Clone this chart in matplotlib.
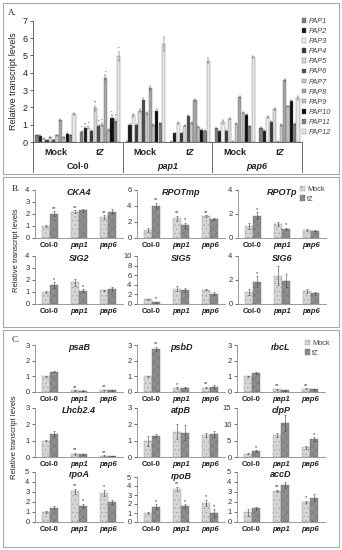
import matplotlib.pyplot as plt
from matplotlib.patches import Rectangle
import numpy as np

plt.rcParams['font.family'] = ['Liberation Sans', 'DejaVu Sans']
plt.rcParams['hatch.linewidth'] = 0.3

W, H = 342, 550

# ---------------- panel A data ----------------
pap_names = ['PAP1', 'PAP2', 'PAP3', 'PAP4', 'PAP5', 'PAP6',
             'PAP7', 'PAP8', 'PAP9', 'PAP10', 'PAP11', 'PAP12']
a_groups = ['Col-0', 'pap1', 'pap6']
a_treat = ['Mock', 'tZ']

a_col0_mock = [0.38, 0.36, 0.20, 0.10, 0.28, 0.12, 0.38, 1.27, 0.27, 0.48, 0.38, 1.62]
a_col0_tz = [0.60, 0.78, 0.82, 0.62, 1.95, 0.90, 1.00, 3.72, 0.68, 1.38, 1.22, 4.95]
a_pap1_mock = [0.02, 1.00, 1.55, 0.96, 1.80, 2.40, 1.65, 3.10, 1.00, 1.80, 1.07, 5.65]
a_pap1_tz = [0.02, 0.50, 1.08, 0.50, 0.95, 1.50, 1.10, 2.40, 0.85, 0.70, 0.65, 4.70]
a_pap6_mock = [0.80, 0.62, 1.15, 0.65, 1.35, 0.02, 1.05, 2.60, 1.70, 1.58, 0.90, 4.90]
a_pap6_tz = [0.80, 0.65, 1.45, 1.15, 1.90, 0.02, 1.00, 3.60, 2.05, 2.35, 1.05, 2.55]

a_col0_mock_err = [0.03, 0.03, 0.02, 0.02, 0.03, 0.02, 0.04, 0.05, 0.03, 0.04, 0.03, 0.08]
a_col0_tz_err = [0.05, 0.08, 0.08, 0.05, 0.15, 0.08, 0.08, 0.12, 0.05, 0.15, 0.12, 0.25]
a_pap1_mock_err = [0.01, 0.05, 0.08, 0.05, 0.08, 0.12, 0.08, 0.12, 0.05, 0.08, 0.05, 0.40]
a_pap1_tz_err = [0.01, 0.03, 0.05, 0.03, 0.05, 0.08, 0.05, 0.08, 0.05, 0.05, 0.03, 0.15]
a_pap6_mock_err = [0.03, 0.03, 0.12, 0.03, 0.05, 0.01, 0.04, 0.05, 0.05, 0.05, 0.05, 0.05]
a_pap6_tz_err = [0.04, 0.03, 0.06, 0.05, 0.06, 0.01, 0.05, 0.06, 0.05, 0.05, 0.05, 0.12]
a_col0_tz_sig = ['*', '**', '*', '', '**', '*', '*', '*', '', '*', '*', '*']

pap_colors = ['#7f7f7f', '#1a1a1a', '#f0f0f0', '#3a3a3a', '#d9d9d9', '#4d4d4d',
              '#c8c8c8', '#a6a6a6', '#bfbfbf', '#0d0d0d', '#808080', '#e8e8e8']

# ---------------- panel B data ----------------
b_genes = ['CKA4', 'RPOTmp', 'RPOTp', 'SIG2', 'SIG5', 'SIG6']
b_mock = [[1.0, 2.2, 1.75], [1.0, 2.45, 2.75], [1.0, 1.15, 0.7],
          [1.0, 1.8, 1.15], [1.0, 3.2, 3.0], [1.0, 2.35, 1.1]]
b_tz = [[2.02, 2.3, 2.2], [4.0, 1.6, 2.35], [1.85, 0.75, 0.62],
        [1.55, 1.12, 1.25], [0.4, 3.0, 2.1], [1.85, 1.95, 0.88]]
b_mock_err = [[0.05, 0.1, 0.15], [0.2, 0.3, 0.1], [0.25, 0.15, 0.08],
              [0.1, 0.3, 0.05], [0.1, 0.5, 0.1], [0.25, 0.8, 0.15]]
b_tz_err = [[0.2, 0.1, 0.2], [0.4, 0.3, 0.15], [0.3, 0.1, 0.05],
            [0.25, 0.1, 0.15], [0.1, 0.4, 0.3], [0.45, 0.55, 0.15]]
b_mock_sig = [['', '**', '**'], ['', '**', '**'], ['', '', ''],
              ['', '', ''], ['', '', ''], ['', '', '']]
b_tz_sig = [['**', '', ''], ['**', '*', ''], ['*', '*', ''],
            ['*', '*', ''], ['*', '', ''], ['*', '', '']]
b_ymax = [4, 6, 4, 4, 10, 4]
b_ystep = [1, 2, 2, 1, 2, 2]

# ---------------- panel C data ----------------
c_genes = ['psaB', 'psbD', 'rbcL', 'Lhcb2.4', 'atpB', 'clpP', 'rpoA', 'rpoB', 'accD']
c_mock = [[1.0, 0.1, 0.12], [1.0, 0.25, 0.28], [1.0, 0.18, 0.2],
          [1.0, 0.2, 0.08], [1.0, 1.55, 1.35], [1.0, 6.8, 3.0],
          [1.0, 3.1, 2.9], [1.0, 3.7, 2.15], [1.0, 3.15, 2.0]]
c_tz = [[1.3, 0.08, 0.12], [2.75, 0.28, 0.35], [1.22, 0.1, 0.17],
        [1.42, 0.18, 0.06], [1.3, 1.5, 1.42], [1.7, 10.5, 5.5],
        [1.45, 1.65, 2.05], [1.7, 1.75, 1.0], [1.38, 3.7, 2.45]]
c_mock_err = [[0.05, 0.02, 0.02], [0.03, 0.05, 0.04], [0.05, 0.03, 0.03],
              [0.02, 0.05, 0.02], [0.3, 0.45, 0.15], [0.2, 0.6, 0.4],
              [0.08, 0.25, 0.3], [0.15, 0.2, 0.35], [0.35, 0.1, 0.1]]
c_tz_err = [[0.05, 0.02, 0.03], [0.15, 0.05, 0.1], [0.08, 0.03, 0.03],
            [0.15, 0.03, 0.02], [0.08, 0.45, 0.2], [0.3, 2.5, 0.5],
            [0.15, 0.15, 0.2], [0.3, 0.2, 0.4], [0.15, 0.3, 0.35]]
c_mock_sig = [['', '**', '**'], ['', '*', '**'], ['', '**', '**'],
              ['', '**', '**'], ['', '', ''], ['', '', ''],
              ['', '**', '*'], ['', '**', '*'], ['', '**', '*']]
c_tz_sig = [['', '', ''], ['**', '', ''], ['', '', ''],
            ['', '', ''], ['', '', ''], ['*', '', '*'],
            ['', '*', ''], ['*', '*', '*'], ['', '', '']]
c_ymax = [3, 3, 3, 3, 3, 15, 5, 5, 5]
c_ystep = [1, 1, 1, 1, 1, 5, 1, 1, 1]

MOCK_C = '#d6d6d6'
TZ_C = '#8e8e8e'
TXT = '#222222'
SPINE = '#8a8a8a'

fig = plt.figure(figsize=(W / 100, H / 100), dpi=100)


def px_axes(x0, y0, x1, y1):
    return fig.add_axes([x0 / W, 1 - y1 / H, (x1 - x0) / W, (y1 - y0) / H])


def box(x0, y0, x1, y1):
    fig.add_artist(Rectangle((x0 / W, 1 - y1 / H), (x1 - x0) / W, (y1 - y0) / H,
                             transform=fig.transFigure, fill=False,
                             edgecolor='#a8a8a8', lw=0.8))


# panel frames
box(3, 3, 339, 174)
box(3, 177, 339, 327)
box(3, 330, 339, 547)
fig.text(8 / W, 1 - 13 / H, 'A.', family='Liberation Serif', fontsize=6.5, va='center', color=TXT)
fig.text(12 / W, 1 - 189 / H, 'B.', family='Liberation Serif', fontsize=6.5, va='center', color=TXT)
fig.text(12 / W, 1 - 340 / H, 'C.', family='Liberation Serif', fontsize=6.5, va='center', color=TXT)

# ---------------- panel A ----------------
ax = px_axes(33, 20.7, 302, 142)
clusters = [a_col0_mock, a_col0_tz, a_pap1_mock, a_pap1_tz, a_pap6_mock, a_pap6_tz]
cluster_err = [a_col0_mock_err, a_col0_tz_err, a_pap1_mock_err, a_pap1_tz_err,
               a_pap6_mock_err, a_pap6_tz_err]
bw = 0.072
for k, name in enumerate(pap_names):
    xs = np.arange(6) + (k - 5.5) * 0.075
    vals = [c[k] for c in clusters]
    errs = [e[k] for e in cluster_err]
    ax.bar(xs, vals, bw, yerr=errs, color=pap_colors[k], edgecolor='#555555', lw=0.25,
           error_kw=dict(elinewidth=0.3, capsize=0.8, capthick=0.3, ecolor='#444444'),
           label=name)
for k, s in enumerate(a_col0_tz_sig):
    if s:
        ax.text(1 + (k - 5.5) * 0.075, a_col0_tz[k] + a_col0_tz_err[k] + 0.05, s,
                ha='center', va='bottom', fontsize=3, color=TXT)
ax.set_xlim(-0.5, 5.5)
ax.set_ylim(0, 7)
ax.set_yticks(range(0, 8))
ax.tick_params(axis='y', labelsize=6.5, length=2, width=0.5, colors=TXT, pad=2)
ax.set_xticks([])
for sp in ['top', 'right']:
    ax.spines[sp].set_visible(False)
for sp in ['left', 'bottom']:
    ax.spines[sp].set_color('#555555')
    ax.spines[sp].set_linewidth(0.6)
ax.set_ylabel('Relative transcript levels', fontsize=6.5, color=TXT, labelpad=3)
for xb in [-0.5, 1.5, 3.5, 5.5]:
    ax.plot([xb, xb], [0, -0.245], transform=ax.get_xaxis_transform(),
            color='#555555', lw=0.6, clip_on=False)
for i in range(6):
    ax.text(i, -0.085, a_treat[i % 2], transform=ax.get_xaxis_transform(),
            ha='center', va='center', fontsize=6.5, fontweight='bold', color=TXT,
            style='italic' if i % 2 else 'normal')
for g, name in enumerate(a_groups):
    ax.text(2 * g + 0.5, -0.2, name, transform=ax.get_xaxis_transform(),
            ha='center', va='center', fontsize=6.5, fontweight='bold', color=TXT,
            style='normal' if g == 0 else 'italic')
hA, lA = ax.get_legend_handles_labels()
fig.legend(hA, lA, loc='upper left', bbox_to_anchor=(302 / W, 1 - 18 / H),
           prop={'size': 5.3, 'style': 'italic'}, labelcolor='#444444',
           frameon=False, handlelength=0.6, handleheight=0.6, handletextpad=0.3,
           labelspacing=0.42, borderpad=0, borderaxespad=0)


# ---------------- small panels ----------------
def small_panel(ax, gene, mock, tz, merr, terr, msig, tsig, ymax, ystep):
    x = np.arange(3)
    w = 0.27
    ekw = dict(elinewidth=0.4, capsize=1, capthick=0.4, ecolor='#444444')
    ax.bar(x - w / 2, mock, w, yerr=merr, color=MOCK_C, edgecolor='#9a9a9a', lw=0.3,
           hatch='....', error_kw=ekw, label='Mock')
    ax.bar(x + w / 2, tz, w, yerr=terr, color=TZ_C, edgecolor='#707070', lw=0.3,
           hatch='xxxx', error_kw=ekw, label='tZ')
    for i in range(3):
        if msig[i]:
            ax.text(i - w / 2, mock[i] + merr[i] + ymax * 0.01, msig[i], ha='center',
                    va='bottom', fontsize=4, color=TXT)
        if tsig[i]:
            ax.text(i + w / 2, tz[i] + terr[i] + ymax * 0.01, tsig[i], ha='center',
                    va='bottom', fontsize=4, color=TXT)
    ax.set_xlim(-0.5, 2.5)
    ax.set_ylim(0, ymax)
    ax.set_yticks(np.arange(0, ymax + 0.1, ystep))
    ax.set_xticks(x)
    ax.set_xticklabels(['Col-0', 'pap1', 'pap6'], fontsize=5.5, fontweight='bold', color=TXT)
    for lbl in ax.get_xticklabels()[1:]:
        lbl.set_style('italic')
    ax.tick_params(axis='x', length=0, pad=3)
    ax.tick_params(axis='y', labelsize=5.5, length=2, width=0.5, colors='#333333', pad=2)
    for sp in ['top', 'right']:
        ax.spines[sp].set_visible(False)
    for sp in ['left', 'bottom']:
        ax.spines[sp].set_color(SPINE)
        ax.spines[sp].set_linewidth(0.6)
    ax.text(0.5, 0.95, gene, transform=ax.transAxes, ha='center', va='center',
            fontsize=6.5, fontweight='bold', style='italic', color=TXT)


b_rows = [(190, 238), (256, 304)]
b_cols = [35, 137, 238]
for n, gene in enumerate(b_genes):
    r, c = divmod(n, 3)
    ax = px_axes(b_cols[c], b_rows[r][0], b_cols[c] + 88, b_rows[r][1])
    small_panel(ax, gene, b_mock[n], b_tz[n], b_mock_err[n], b_tz_err[n],
                b_mock_sig[n], b_tz_sig[n], b_ymax[n], b_ystep[n])
    if n == 0:
        hB, lB = ax.get_legend_handles_labels()
fig.legend(hB, lB, loc='upper left', bbox_to_anchor=(300 / W, 1 - 186 / H),
           fontsize=5.3, labelcolor='#444444', frameon=False, handlelength=0.7,
           handleheight=0.7, handletextpad=0.3, labelspacing=0.3, borderpad=0,
           borderaxespad=0)
fig.text(17 / W, 1 - 250 / H, 'Relative transcript levels', rotation=90,
         ha='center', va='center', fontsize=5.5, color=TXT)

c_rows = [(345, 392), (408, 457), (472, 522)]
c_cols = [35, 137, 237]
for n, gene in enumerate(c_genes):
    r, c = divmod(n, 3)
    top, bottom = c_rows[r]
    if gene == 'rpoB':
        top = 477  # this axis is drawn a little shorter in the original
    ax = px_axes(c_cols[c], top, c_cols[c] + 88, bottom)
    small_panel(ax, gene, c_mock[n], c_tz[n], c_mock_err[n], c_tz_err[n],
                c_mock_sig[n], c_tz_sig[n], c_ymax[n], c_ystep[n])
    if gene == 'rpoB':
        ax.texts[-1].set_position((0.5, 1.02))
fig.legend(hB, lB, loc='upper left', bbox_to_anchor=(305 / W, 1 - 340 / H),
           fontsize=5.3, labelcolor='#444444', frameon=False, handlelength=0.7,
           handleheight=0.7, handletextpad=0.3, labelspacing=0.3, borderpad=0,
           borderaxespad=0)
fig.text(15 / W, 1 - 437 / H, 'Relative transcript levels', rotation=90,
         ha='center', va='center', fontsize=5.5, color=TXT)

fig.savefig('out.png', dpi=100)
